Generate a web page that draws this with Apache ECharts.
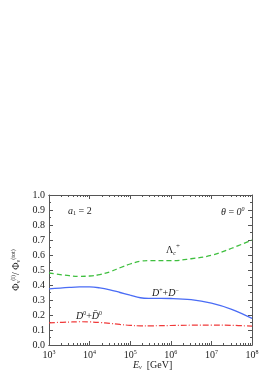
<!DOCTYPE html>
<html><head><meta charset="utf-8">
<script src="https://cdn.jsdelivr.net/npm/echarts@6/dist/echarts.min.js"></script>
<style>html,body{margin:0;padding:0;background:#fff}#c{width:275px;height:390px}</style>
</head><body><div id="c"></div>
<script>
// x values are log10(E_nu / GeV)
const logE = [3, 3.5, 3.75, 4, 4.25, 4.5, 4.75, 5, 5.25, 5.5, 6, 6.5, 7, 7.5, 8];
const lambdaC = [0.480, 0.462, 0.458, 0.460, 0.469, 0.488, 0.515, 0.540, 0.558, 0.563, 0.562, 0.575, 0.598, 0.645, 0.700];
const dCharged = [0.374, 0.384, 0.387, 0.387, 0.381, 0.368, 0.350, 0.332, 0.315, 0.311, 0.310, 0.303, 0.279, 0.238, 0.177];
const dNeutral = [0.148, 0.153, 0.155, 0.154, 0.150, 0.144, 0.137, 0.131, 0.128, 0.128, 0.130, 0.132, 0.133, 0.131, 0.126];
const xDecades = [3, 4, 5, 6, 7, 8];
const yTicks = [0, 0.1, 0.2, 0.3, 0.4, 0.5, 0.6, 0.7, 0.8, 0.9, 1.0];

const minorX = [];
for (let n = 3; n < 8; n++) for (let k = 2; k <= 9; k++) minorX.push(n + Math.log10(k));

const FONT = '"Liberation Serif", "DejaVu Serif", serif';
const AX = '#555';
const pair = (arr) => logE.map((x, i) => [x, arr[i]]);

const baseX = (pos, showLabel, ticks, len) => ({
  type: 'value', min: 3, max: 8, interval: 1, position: pos,
  axisLine: { show: true, onZero: false, lineStyle: { color: AX, width: 1 } },
  axisTick: { show: true, inside: true, length: len, customValues: ticks, lineStyle: { color: AX } },
  axisLabel: showLabel ? {
    show: true, customValues: xDecades, margin: 4, color: '#222', fontFamily: FONT, fontSize: 10,
    formatter: v => '10{s|' + Math.round(v) + '}',
    rich: { s: { fontSize: 6, fontFamily: FONT, color: '#222', padding: [0, 0, 6, 0] } }
  } : { show: false },
  splitLine: { show: false }
});
const baseY = (pos, showLabel) => ({
  type: 'value', min: 0, max: 1, interval: 0.1, position: pos,
  axisLine: { show: true, onZero: false, lineStyle: { color: AX, width: 1 } },
  axisTick: { show: true, inside: true, length: 4, lineStyle: { color: AX } },
  minorTick: { show: true, splitNumber: 2, length: 2, lineStyle: { color: AX } },
  axisLabel: showLabel ? { show: true, margin: 4, color: '#222', fontFamily: FONT, fontSize: 10,
    formatter: v => v.toFixed(1) } : { show: false },
  splitLine: { show: false }, minorSplitLine: { show: false }
});

const chart = echarts.init(document.getElementById('c'), null, { renderer: 'canvas' });
const yName = baseY('left', true);
yName.name = '{m|Φ}{sb|ν}{sp|(l)}{m|/ Φ}{sb|ν}{sp|(tot)}';
yName.nameLocation = 'middle';
yName.nameRotate = 90;
yName.nameGap = 24;
yName.nameTextStyle = { fontFamily: FONT, color: '#222', fontSize: 10,
  rich: { m: { fontSize: 10, fontFamily: FONT, color: '#222' },
          sb: { fontSize: 6, fontFamily: FONT, color: '#222', padding: [5, 0, 0, 0] },
          sp: { fontSize: 6, fontFamily: FONT, color: '#222', padding: [0, 0, 6, 0] } } };

chart.setOption({
  animation: false,
  grid: { left: 49, right: 23, top: 195, bottom: 45, containLabel: false },
  xAxis: [
    baseX('bottom', true, xDecades, 4),
    baseX('bottom', false, minorX, 2),
    baseX('top', false, xDecades, 4),
    baseX('top', false, minorX, 2)
  ],
  yAxis: [yName, baseY('right', false)],
  series: [
    { type: 'line', data: pair(lambdaC), smooth: 0.4, showSymbol: false,
      lineStyle: { color: '#3fbf3f', width: 1.3, type: [5, 3] } },
    { type: 'line', data: pair(dCharged), smooth: 0.4, showSymbol: false,
      lineStyle: { color: '#4a6cf5', width: 1.3 } },
    { type: 'line', data: pair(dNeutral), smooth: 0.4, showSymbol: false,
      lineStyle: { color: '#f03a3a', width: 1.2, type: [6, 2, 1, 2] } }
  ],
  graphic: [
    { type: 'text', left: 68, top: 206, style: { text: '{i|a}{sb|1}{m| = 2}', fontFamily: FONT, fontSize: 10, fill: '#222',
      rich: { i: { fontStyle: 'italic', fontSize: 10, fontFamily: FONT }, m: { fontSize: 10, fontFamily: FONT },
              sb: { fontSize: 6, fontFamily: FONT, padding: [5, 0, 0, 0] } } } },
    { type: 'text', left: 221, top: 206, style: { text: '{i|θ}{m| = }{i|0}{sp|0}', fontFamily: FONT, fontSize: 10, fill: '#222',
      rich: { i: { fontStyle: 'italic', fontSize: 10, fontFamily: FONT }, m: { fontSize: 10, fontFamily: FONT },
              sp: { fontSize: 6, fontStyle: 'italic', fontFamily: FONT, padding: [0, 0, 6, 0] } } } },
    { type: 'text', left: 166, top: 243, style: { text: '{m|Λ}{sb|c}{sp|+}', fontFamily: FONT, fontSize: 10, fill: '#222',
      rich: { m: { fontSize: 10, fontFamily: FONT }, sb: { fontSize: 6, fontStyle: 'italic', fontFamily: FONT, padding: [6, 0, 0, 0] },
              sp: { fontSize: 7, fontFamily: FONT, padding: [0, 0, 8, 0] } } } },
    { type: 'text', left: 152, top: 287, style: { text: '{i|D}{sp|+}{m|+}{i|D}{sp|−}', fontFamily: FONT, fontSize: 10, fill: '#222',
      rich: { i: { fontStyle: 'italic', fontSize: 10, fontFamily: FONT }, m: { fontSize: 10, fontFamily: FONT },
              sp: { fontSize: 6, fontFamily: FONT, padding: [0, 0, 6, 0] } } } },
    { type: 'text', left: 76, top: 310, style: { text: '{i|D}{sp|0}{m|+}{i|D̄}{sp|0}', fontFamily: FONT, fontSize: 10, fill: '#222',
      rich: { i: { fontStyle: 'italic', fontSize: 10, fontFamily: FONT }, m: { fontSize: 10, fontFamily: FONT },
              sp: { fontSize: 6, fontFamily: FONT, padding: [0, 0, 6, 0] } } } },
    { type: 'text', left: 133, top: 360, style: { text: '{i|E}{sb|ν}{m|  [GeV]}', fontFamily: FONT, fontSize: 10, fill: '#222',
      rich: { i: { fontStyle: 'italic', fontSize: 10, fontFamily: FONT }, m: { fontSize: 10, fontFamily: FONT },
              sb: { fontSize: 6, fontStyle: 'italic', fontFamily: FONT, padding: [5, 0, 0, 0] } } } }
  ]
});
</script></body></html>
